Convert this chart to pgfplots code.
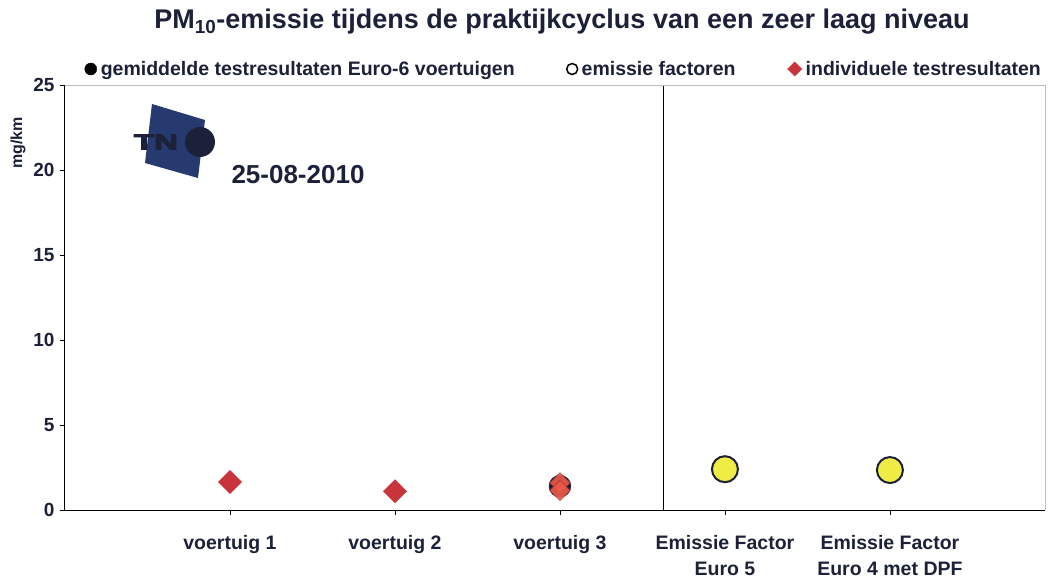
\documentclass[border=0pt]{standalone}
\usepackage{pgfplots}
\pgfplotsset{compat=1.18}
\usepackage{fontspec}
\setmainfont{Liberation Sans}
\newfontfamily\logofont{Liberation Sans}[BoldFeatures={FakeBold=4}]
\definecolor{navy}{RGB}{28,32,56}
\definecolor{dred}{RGB}{200,52,60}
\definecolor{coral}{RGB}{236,90,70}
\definecolor{yel}{RGB}{240,236,70}
\definecolor{logoblue}{RGB}{38,58,112}
\begin{document}
\begin{tikzpicture}[x=1pt,y=1pt]
\begin{axis}[
  at={(0,0)}, anchor=south west,
  scale only axis, width=980pt, height=425pt,
  xmin=0, xmax=5.94, ymin=0, ymax=25,
  axis x line*=bottom, axis y line*=left,
  axis line style={black, line width=1pt},
  xtick={1,2,3,4,5},
  xticklabels={voertuig 1, voertuig 2, voertuig 3, {Emissie Factor\\Euro 5}, {Emissie Factor\\Euro 4 met DPF}},
  xticklabel style={align=center, font=\bfseries\fontsize{19.5}{26}\selectfont, text=navy, yshift=-17pt},
  ytick={0,5,10,15,20,25},
  yticklabel style={font=\bfseries\fontsize{19}{21}\selectfont, text=navy, xshift=-2pt},
  /pgf/number format/assume math mode=true,
  tick style={black, line width=0.8pt},
  major tick length=5pt,
  tick align=outside,
  clip=false,
  legend style={at={(rel axis cs:0.509,1)}, anchor=center, yshift=16pt, draw=none, fill=none,
    legend columns=3, font=\bfseries\fontsize{19.5}{22}\selectfont, text=navy,
    /tikz/every even column/.append style={column sep=50pt},
    /tikz/every odd column/.append style={column sep=2pt}},
  legend cell align=left,
]
% mean results (single-test vehicles: hidden behind the test result)
\addplot[only marks, mark=*, mark size=7pt, mark options={fill=navy, draw=navy}, forget plot]
  coordinates {(1,1.65) (2,1.1)};
\addplot[only marks, mark=*, mark size=11pt, mark options={fill=navy, draw=navy}, forget plot]
  coordinates {(3,1.4)};
% individual test results
\addplot[only marks, mark=square*, mark size=8.2pt, mark options={rotate=45, fill=dred, draw=dred}, forget plot]
  coordinates {(1,1.65) (2,1.1)};
\addplot[only marks, mark=square*, mark size=7.2pt, mark options={rotate=45, fill=coral, draw=dred!80!black, fill opacity=0.9}, forget plot]
  coordinates {(3,1.6) (3,1.15)};
% emission factors
\addplot[only marks, mark=*, mark size=13pt, mark options={fill=yel, draw=navy, line width=2pt}, forget plot]
  coordinates {(4,2.4) (5,2.35)};
\addlegendimage{only marks, mark=*, mark size=6pt, mark options={fill=black, draw=black}}
\addlegendentry{gemiddelde testresultaten Euro-6 voertuigen}
\addlegendimage{only marks, mark=*, mark size=5.5pt, mark options={fill=white, draw=black, line width=1.5pt}}
\addlegendentry{emissie factoren}
\addlegendimage{only marks, mark=square*, mark size=5pt, mark options={rotate=45, fill=dred, draw=dred}}
\addlegendentry{individuele testresultaten}
\draw[black, line width=1pt] (axis cs:3.63,0) -- (axis cs:3.63,25);
\draw[gray!50, line width=0.8pt] (rel axis cs:0,1) -- (rel axis cs:1,1) -- (rel axis cs:1,0);
\end{axis}
% y label
\node[rotate=90, font=\bfseries\fontsize{16}{18}\selectfont, text=navy] at (-47,367) {mg/km};
% title
\node[font=\bfseries\fontsize{27}{32}\selectfont, text=navy] at (497,488) {PM\textsubscript{10}-emissie tijdens de praktijkcyclus van een zeer laag niveau};
% logo
\fill[logoblue] (87,406) -- (140,390) -- (133,332) -- (80,347) -- cycle;
\node[font=\logofont\bfseries\fontsize{30}{30}\selectfont, text=navy, inner sep=0pt] at (91,368) {\scalebox{1.1}[0.72]{TN}};
\fill[navy] (135,368) circle (15);
% date
\node[font=\bfseries\fontsize{26}{30}\selectfont, text=navy] at (233,335) {25-08-2010};
\path[use as bounding box] (-65,-72) rectangle (987,510);
\end{tikzpicture}
\end{document}
